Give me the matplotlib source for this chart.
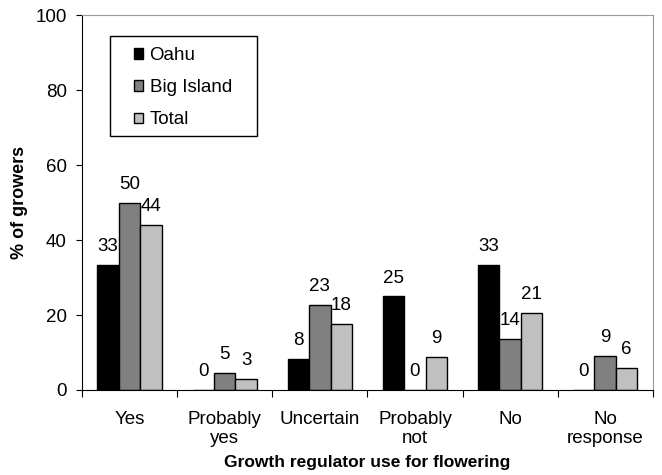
import numpy as np
import matplotlib.pyplot as plt
from matplotlib.patches import Rectangle

plt.rcParams['font.family'] = ['Liberation Sans', 'DejaVu Sans']

# DATA
categories = ['Yes', 'Probably\nyes', 'Uncertain', 'Probably\nnot', 'No', 'No\nresponse']
oahu = [33.3, 0, 8.3, 25.0, 33.3, 0]
big_island = [50.0, 4.55, 22.7, 0, 13.6, 9.1]
total = [44.1, 2.9, 17.6, 8.8, 20.6, 5.9]
series_names = ['Oahu', 'Big Island', 'Total']
colors = ['#000000', '#808080', '#c0c0c0']

fs = 13.5

fig = plt.figure(figsize=(6.62, 4.75), dpi=100)
ax = fig.add_axes([0.124, 0.179, 0.862, 0.789])

x = np.arange(len(categories))
w = 0.226
for i, (vals, name, c) in enumerate(zip([oahu, big_island, total], series_names, colors)):
    pos = x + (i - 1) * w
    ax.bar(pos, vals, w, color=c, edgecolor='black', linewidth=1, label=name)
    for p, v in zip(pos, vals):
        ax.text(p, v + 2.6, '%d' % round(v), ha='center', va='bottom', fontsize=fs)

ax.set_xlim(-0.5, len(categories) - 0.5)
ax.set_ylim(0, 100)
ax.set_yticks(range(0, 101, 20))
ax.tick_params(axis='y', labelsize=fs, length=4, pad=7, direction='out')

# ticks between categories, labels in the middle
ax.set_xticks(np.arange(-0.5, len(categories), 1.0))
ax.set_xticklabels([])
ax.set_xticks(x, minor=True)
ax.set_xticklabels(categories, minor=True, fontsize=fs, linespacing=1.15)
ax.tick_params(axis='x', which='major', length=5, direction='out')
ax.tick_params(axis='x', which='minor', length=0, pad=15)

for s in ['top', 'right']:
    ax.spines[s].set_color('#999999')
ax.spines['left'].set_color('black')
ax.spines['bottom'].set_color('black')

ax.set_ylabel('% of growers', fontsize=13, fontweight='bold')
ax.yaxis.set_label_coords(-0.095, 0.5)
ax.set_xlabel('Growth regulator use for flowering', fontsize=12.5, fontweight='bold', labelpad=6)

# legend: entries without frame, box drawn around them
leg = ax.legend(loc='upper left', bbox_to_anchor=(0.091, 0.915), fontsize=fs,
                handlelength=0.48, handleheight=0.48, handletextpad=0.35,
                labelspacing=0.81, borderpad=0, borderaxespad=0, frameon=False)
ax.add_patch(Rectangle((0.049, 0.677), 0.257, 0.267, transform=ax.transAxes,
                       facecolor='none', edgecolor='black', linewidth=1, zorder=5))

fig.savefig('out.png', dpi=100)
